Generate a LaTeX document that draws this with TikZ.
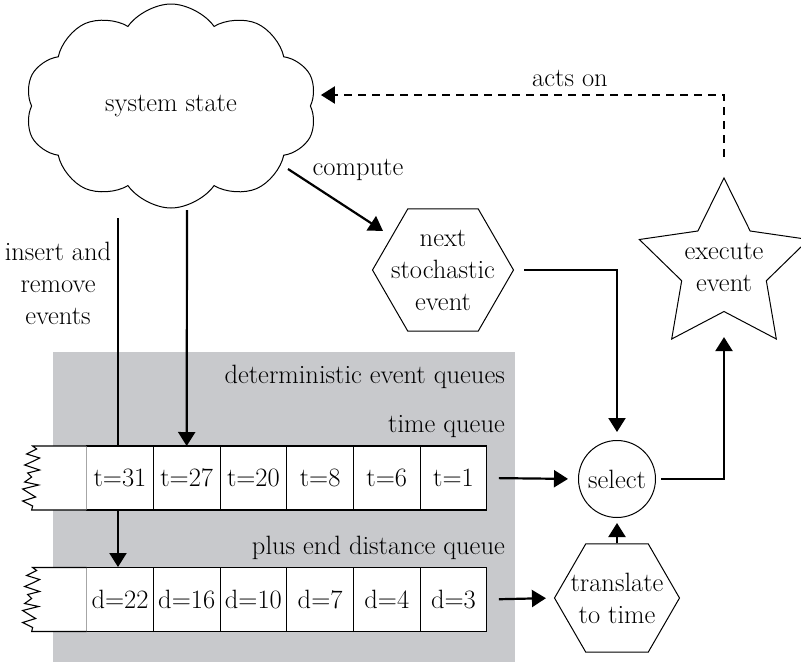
\documentclass[tikz,border=0pt]{standalone}
\usetikzlibrary{calc,positioning,arrows.meta,shapes.geometric,shapes.symbols}
\definecolor{queuegray}{RGB}{200,201,204}
\tikzstyle{flow}=[-{Triangle[length=14pt,width=17pt]},line width=2.2pt]
\tikzstyle{cell}=[rectangle,draw,fill=white,line width=1.1pt,inner sep=0,%
  outer sep=0,minimum width=66.7pt,minimum height=64pt]
\tikzstyle{hexa}=[regular polygon,regular polygon sides=6,draw,line width=1pt,%
  inner sep=0]

\begin{document}
\begin{tikzpicture}[
    x=1pt,y=-1pt,
    font=\fontsize{26.5}{32}\selectfont,
    actson/.style={flow,dash pattern=on 8pt off 6pt},
    tail/.style={draw,fill=white,line width=1.1pt},
    label/.style={inner sep=0}
    ]
    \useasboundingbox (0,0) rectangle (801,662);

    % deterministic part
    \fill[queuegray] (53,352) rectangle (515,662);
    \node [label,anchor=east] (detq) at (505,377) {deterministic event queues};
    \node [label,anchor=east] (timeq) at (505,427) {time queue};
    \node [label,anchor=east] (distq) at (505,548) {plus end distance queue};

    \node [cloud,draw,line width=1pt,cloud puffs=10,cloud puff arc=110,aspect=1.45,
      minimum width=292pt,minimum height=204pt] (state) at (171,106) {system state};

    \node [label,align=center] (ins) at (58,283) {insert and\\remove\\events};
    \coordinate (insc) at (118,218);
    \coordinate (updc) at (187,210);
    \draw [flow] (insc) -- (insc |- 0,567);

    % queues
    \foreach \v [count=\i] in {31,27,20,8,6,1}
      \node [cell] (t\i) at ({53.3+66.7*\i},478) {t=\v};
    \foreach \v [count=\i] in {22,16,10,7,4,3}
      \node [cell] (d\i) at ({53.3+66.7*\i},599.5) {d=\v};
    % torn ends
    \foreach \q in {t1,d1}
      \draw [tail] (\q.north west) -- ++(-54,0)
        \foreach \dx/\dy in {4/3,-10/5,13/4,-6/3,-9/4,15/5,-12/3,4/4,-7/5,14/3,%
          -16/4,8/5,5/3,-13/4,10/5,-1/4} { -- ++(\dx,\dy) }
        -- (\q.south west);

    \draw [flow] (updc) -- (t2.north);

    % stochastic part
    \node [hexa,minimum size=141pt] (next) at (443,270) {};
    \node [label,align=center] at (next) {next\\stochastic\\event};
    \node [label] (comp) at (358,170) {compute};
    \coordinate (compc) at (288,169);
    \draw [flow,shorten >=10pt] (compc) -- (next);

    \node [circle,draw,line width=1pt,inner sep=0,minimum size=77pt] (sel) at (617,479) {select};
    \node [hexa,minimum size=125pt] (trans) at (617,598) {};
    \node [label,align=center] at (trans) {translate\\to time};
    \node [star,star points=5,star point ratio=2,draw,line width=1pt,inner sep=0,
      minimum size=178pt] (exec) at (724,267) {};
    \node [label,align=center] at (exec) {execute\\event};

    % into select and out
    \draw [flow,shorten <=10pt,shorten >=8pt] (next.east) -| (sel.north);
    \draw [flow,shorten <=12pt,shorten >=10pt] (t6.east) -- (sel.west);
    \draw [flow,shorten <=12pt,shorten >=8pt] (d6.east) -- (trans.west);
    \draw [flow,shorten >=5pt] (trans.north) -- (sel.south);
    \draw [flow,shorten <=5pt,shorten >=25pt] (sel.east) -| (exec.south);

    % feedback
    \draw [actson,shorten <=20pt,shorten >=10pt] (exec.north) |- ([yshift=11pt]state.east);
    \node [label] (acts) at (570,78) {acts on};
  \end{tikzpicture}
\end{document}
